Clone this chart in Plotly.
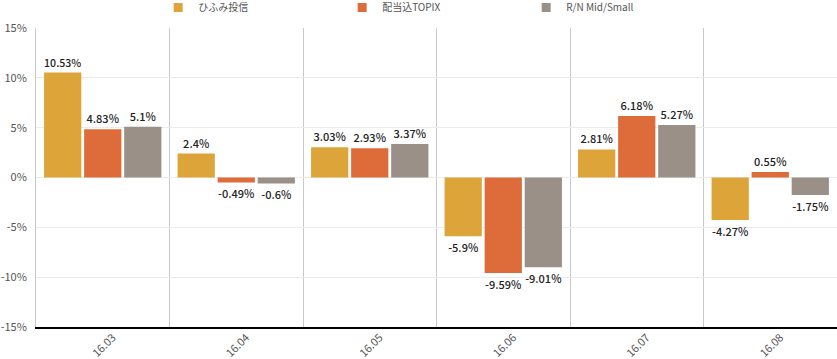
import plotly.graph_objects as go

categories = ["16.03", "16.04", "16.05", "16.06", "16.07", "16.08"]
series_names = ["ひふみ投信", "配当込TOPIX", "R/N Mid/Small"]
hifumi = [10.53, 2.4, 3.03, -5.9, 2.81, -4.27]
topix = [4.83, -0.49, 2.93, -9.59, 6.18, 0.55]
rn_mid_small = [5.1, -0.6, 3.37, -9.01, 5.27, -1.75]
colors = ["#DDA43A", "#DD6C3A", "#9A9087"]
y_ticks = [-15, -10, -5, 0, 5, 10, 15]

FONT = "Noto Sans CJK JP"

fig = go.Figure()
for name, vals, col in zip(series_names, [hifumi, topix, rn_mid_small], colors):
    fig.add_trace(go.Bar(
        x=categories, y=vals, name=name, marker_color=col, marker_line_width=0,
        text=[f"{v}%" for v in vals], textposition="outside", cliponaxis=False,
        textfont=dict(family=FONT, size=11, color="#222222", weight=500),
        showlegend=False, hoverinfo="skip",
    ))
# legend entries with small square swatches
for name, col in zip(series_names, colors):
    fig.add_trace(go.Scatter(
        x=[None], y=[None], mode="markers", name=name,
        marker=dict(symbol="square", size=9, color=col),
    ))

fig.update_layout(
    width=837, height=359,
    margin=dict(l=36, r=0, t=28, b=32, autoexpand=False),
    plot_bgcolor="white", paper_bgcolor="white",
    barmode="group", bargap=0.1, bargroupgap=0.07,
    hovermode=False,
    font=dict(family=FONT, size=10, color="#555555"),
    showlegend=True,
    legend=dict(orientation="h", x=0.1525, y=1.117, yanchor="top", xanchor="left",
                entrywidth=139, entrywidthmode="pixels", itemwidth=30,
                font=dict(family=FONT, size=10, color="#555555"),
                traceorder="normal"),
)
fig.update_xaxes(
    type="category", tickangle=-45, tickson="boundaries", showgrid=True,
    gridcolor="#C8C8C8", gridwidth=1, ticks="", showline=True, linecolor="#000000",
    linewidth=1.5, tickfont=dict(size=11, color="#555555"), range=[-0.5, 5.5],
    ticklabelshift=10, ticklabelstandoff=-2,
)
fig.update_yaxes(
    range=[-15, 15], tickvals=y_ticks, ticktext=[f"{t}%" for t in y_ticks],
    showgrid=True, gridcolor="#EBEBEB", gridwidth=1, zeroline=False,
    showline=True, linecolor="#C8C8C8", linewidth=1, ticks="",
    tickfont=dict(size=11, color="#555555"), ticklabelstandoff=6,
)

fig.write_html("out.html", config={"displayModeBar": False},
               post_script="document.body.style.margin='0';")
